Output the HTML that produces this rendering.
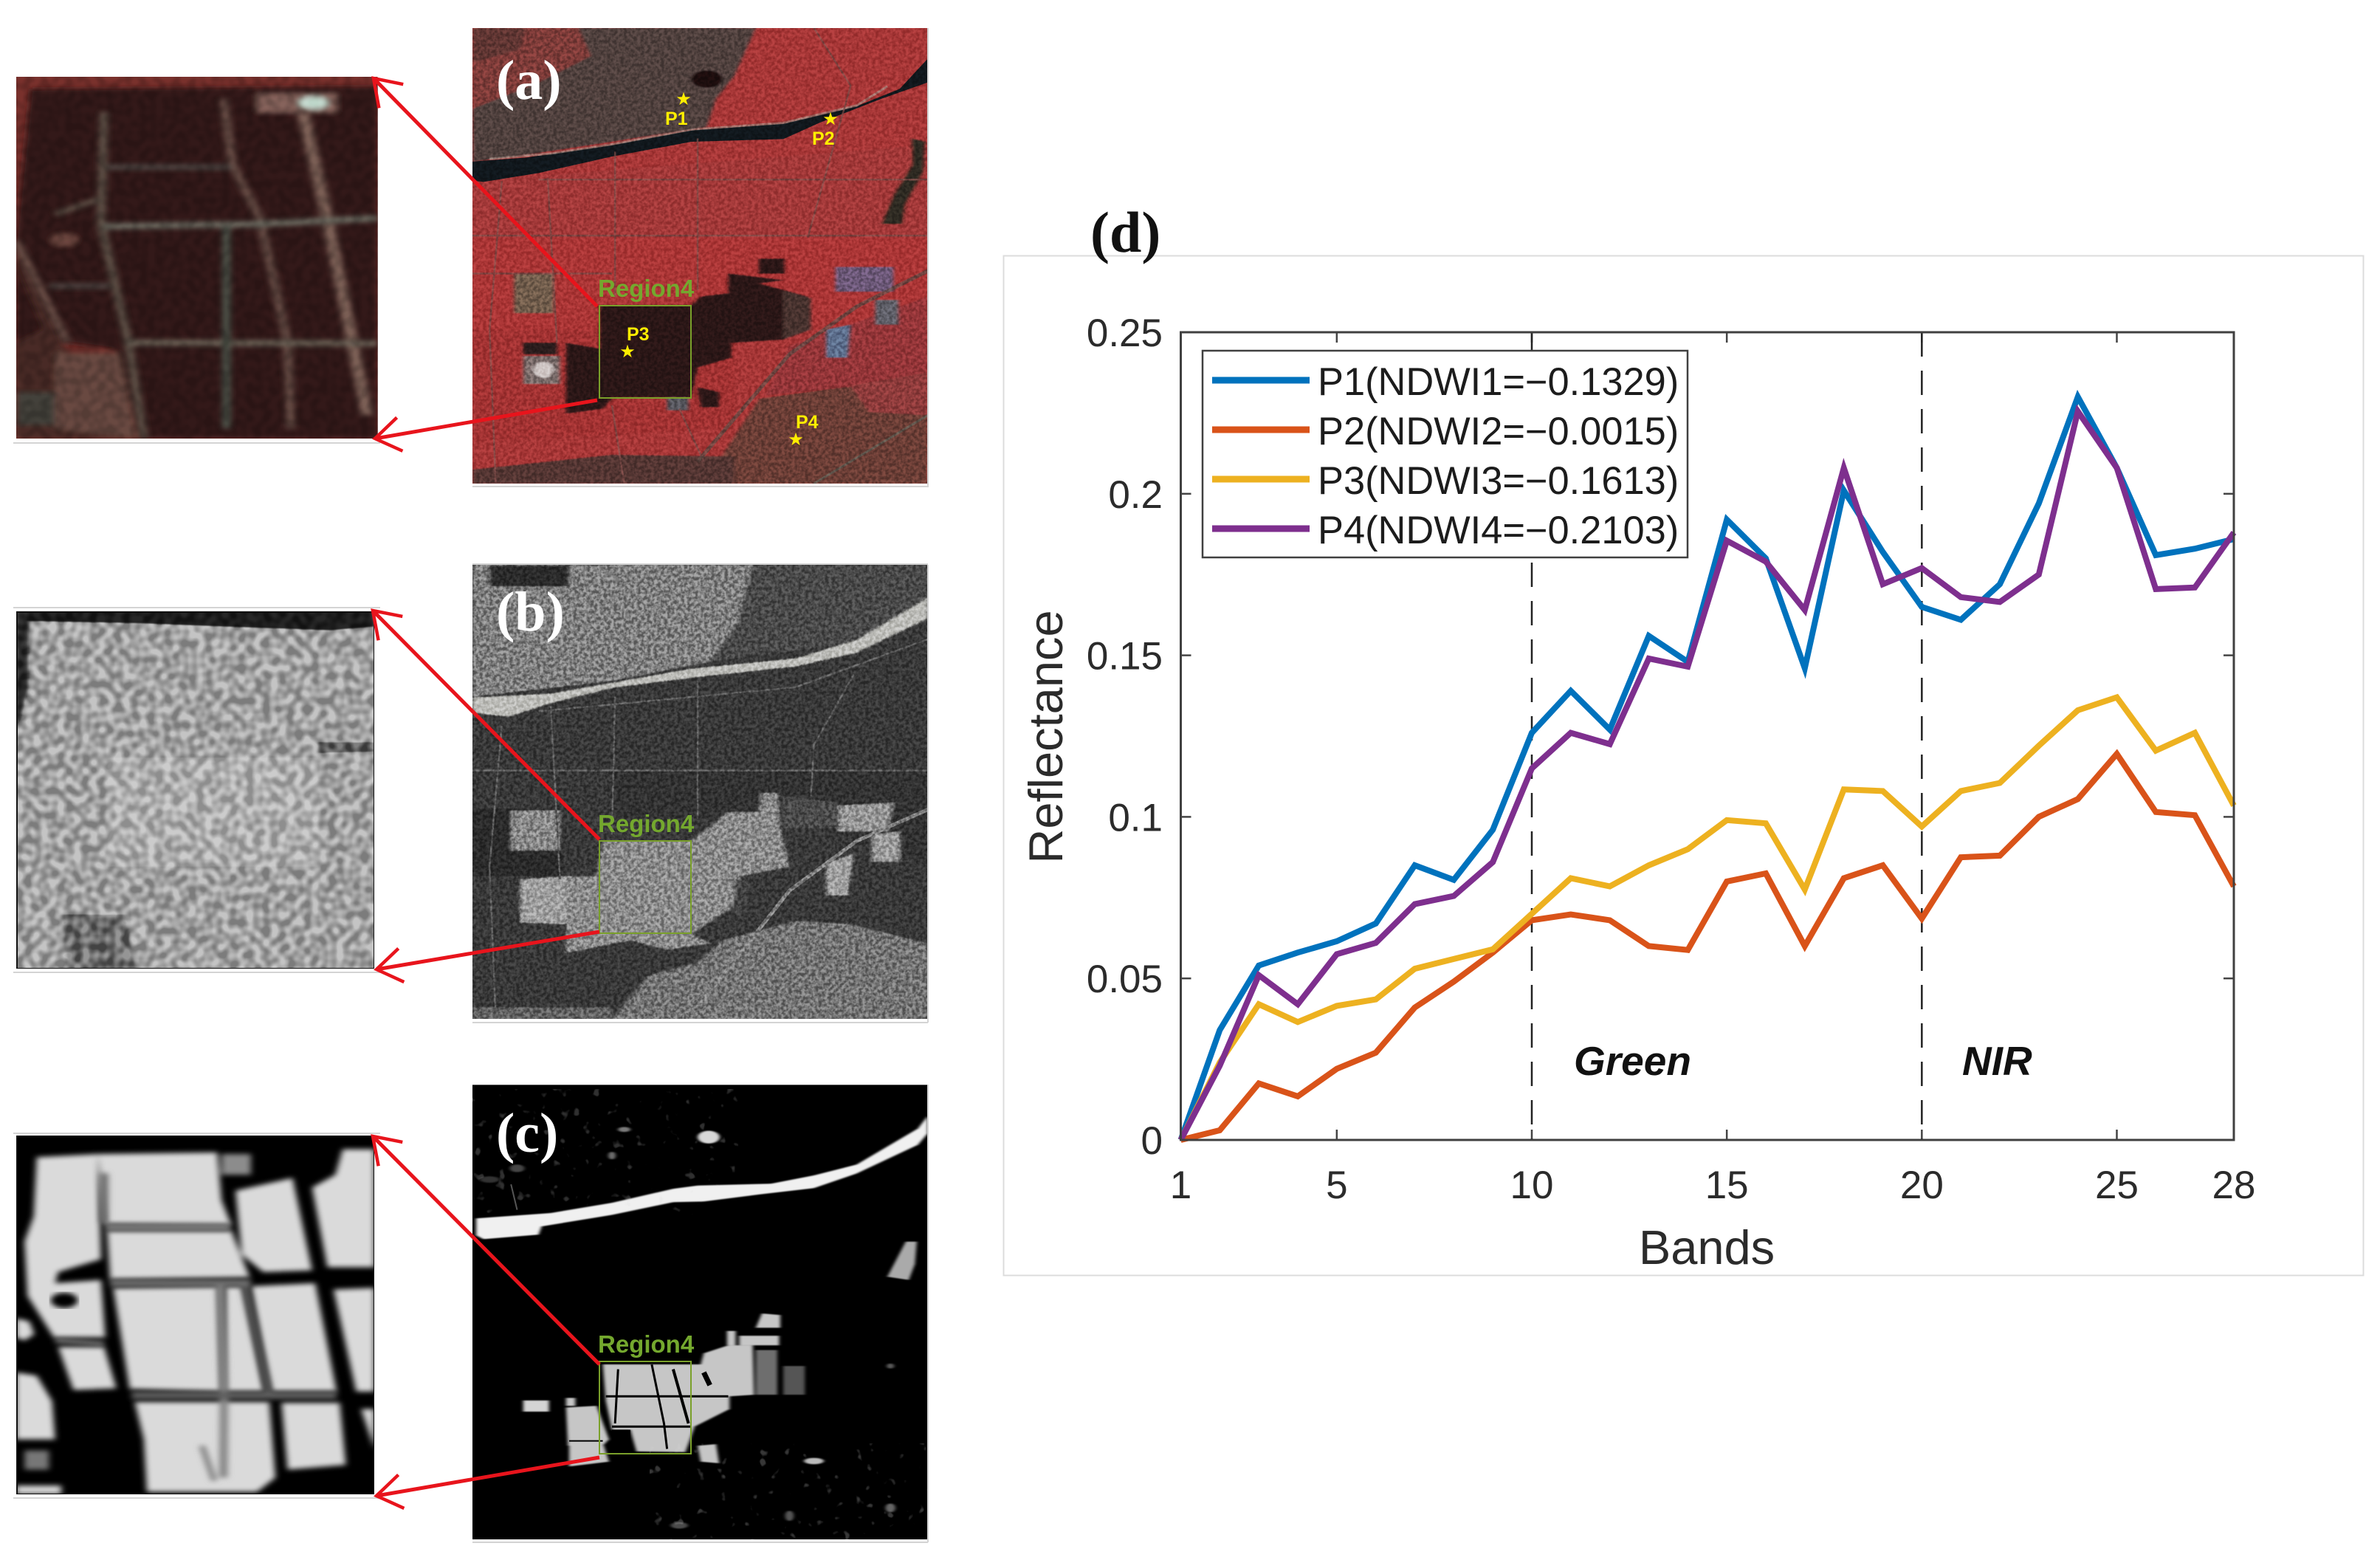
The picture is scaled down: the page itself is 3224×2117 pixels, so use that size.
<!DOCTYPE html>
<html lang="en">
<head>
<meta charset="utf-8">
<title>Region4 imagery and band reflectance</title>
<style>
html,body{margin:0;padding:0;background:#fff;width:3224px;height:2117px;overflow:hidden}
svg{display:block}
.sans{font-family:"Liberation Sans",sans-serif}
.serif{font-family:"Liberation Serif",serif}
.tick{font-family:"Liberation Sans",sans-serif;font-size:53px;fill:#2b2b2b}
.leg{font-family:"Liberation Sans",sans-serif;font-size:52.4px;fill:#1c1c1c}
.region{font-family:"Liberation Sans",sans-serif;font-size:33px;font-weight:bold;fill:#74a82e}
.pt{font-family:"Liberation Sans",sans-serif;font-size:25px;font-weight:bold;fill:#ffee00}
.star{font-family:"DejaVu Sans",sans-serif;font-size:24px;fill:#ffee00;text-anchor:middle}
.panel-label{font-family:"Liberation Serif",serif;font-size:76px;font-weight:bold;fill:#fff}
.rd{fill:none;stroke-width:2.5;vector-effect:non-scaling-stroke}
</style>
</head>
<body>
<svg id="figure" xmlns="http://www.w3.org/2000/svg" width="3224" height="2117" viewBox="0 0 3224 2117">
<defs>
  <filter id="soft" x="-5%" y="-5%" width="110%" height="110%"><feGaussianBlur stdDeviation="3 2"/></filter>
  <filter id="softer" x="-5%" y="-5%" width="110%" height="110%"><feGaussianBlur stdDeviation="7 6"/></filter>
  <filter id="insetBlur" x="-5%" y="-5%" width="110%" height="110%"><feGaussianBlur stdDeviation="5 8"/></filter>
  <filter id="grainFine" x="0" y="0" width="100%" height="100%" color-interpolation-filters="sRGB">
    <feTurbulence type="fractalNoise" baseFrequency="0.22" numOctaves="2" seed="4"/>
    <feColorMatrix type="matrix" values="2.6 0 0 0 -0.8  2.6 0 0 0 -0.8  2.6 0 0 0 -0.8  0 0 0 0 1"/>
  </filter>
  <filter id="grainBlock" x="0" y="0" width="100%" height="100%" color-interpolation-filters="sRGB">
    <feTurbulence type="fractalNoise" baseFrequency="0.09" numOctaves="1" seed="9"/>
    <feColorMatrix type="matrix" values="3 0 0 0 -1  3 0 0 0 -1  3 0 0 0 -1  0 0 0 0 1"/>
  </filter>
  <filter id="specks" x="0" y="0" width="100%" height="100%" color-interpolation-filters="sRGB">
    <feTurbulence type="fractalNoise" baseFrequency="0.07" numOctaves="2" seed="21"/>
    <feColorMatrix type="matrix" values="0 0 0 0 .85  0 0 0 0 .85  0 0 0 0 .85  9 0 0 0 -6.1"/>
  </filter>
  <clipPath id="clipA"><rect x="640" y="38" width="617" height="617"/></clipPath>
  <clipPath id="clipB"><rect x="640" y="765" width="617" height="615"/></clipPath>
  <clipPath id="clipC"><rect x="640" y="1469" width="617" height="616"/></clipPath>
  <clipPath id="clipIA"><rect x="22" y="104" width="490" height="490"/></clipPath>
  <clipPath id="clipIB"><rect x="22" y="828" width="485" height="484"/></clipPath>
  <clipPath id="clipIC"><rect x="22" y="1538" width="485" height="486"/></clipPath>
  <marker id="chev" markerUnits="userSpaceOnUse" markerWidth="70" markerHeight="70" refX="56" refY="35" orient="auto">
    <path d="M22,12 L56,35 L22,58" fill="none" stroke="#e8141c" stroke-width="4.5"/>
  </marker>
</defs>

<rect width="3224" height="2117" fill="#fff"/>

<!-- INSET A -->
<g clip-path="url(#clipIA)">
 <g transform="scale(0.829,0.4464)">
  <rect x="26" y="233" width="591" height="1098" fill="#6e2c28"/>
  <g filter="url(#insetBlur)">
   <path d="M50,270 L617,262 L617,1331 L230,1331 L190,1060 L110,1040 L50,1000 L26,720 Z" fill="#2e1518"/>
   <path d="M26,730 L100,1040 L215,1331 L26,1331 Z" fill="#432524"/>
   <path d="M26,800 L70,1000 L26,1040 Z" fill="#2e1518"/>
   <path d="M90,1070 L195,1070 L225,1331 L90,1300 Z" fill="#5e433a"/>
   <path d="M26,1190 L90,1190 L90,1290 L26,1290 Z" fill="#3e3a36"/>
   <rect x="420" y="285" width="130" height="55" fill="#7a5a52"/>
   <ellipse cx="512" cy="312" rx="24" ry="18" fill="#c4dcd0"/>
   <ellipse cx="105" cy="728" rx="22" ry="18" fill="#6a443e"/>
  </g>
  <g filter="url(#insetBlur)" fill="none" stroke-width="14">
   <path d="M170,340 L165,680 L210,1040 L235,1331" stroke="#55483f"/>
   <path d="M365,300 L380,500 L425,665 L470,1040 L475,1300" stroke="#5e4640"/>
   <path d="M495,340 L535,665 L600,1260" stroke="#725850" stroke-width="20"/>
   <path d="M170,687 L420,680 L617,662" stroke="#64645a" stroke-width="18"/>
   <path d="M175,507 L380,507" stroke="#47403c" stroke-width="16"/>
   <path d="M210,1040 L617,1042" stroke="#625a50" stroke-width="18"/>
   <path d="M370,690 L370,1300" stroke="#424840"/>
   <path d="M90,650 L160,605" stroke="#55483f"/>
   <path d="M26,730 L110,1040" stroke="#5e4640"/>
   <path d="M80,868 L180,868" stroke="#443e3a" stroke-width="16"/>
  </g>
 </g>
 <rect x="22" y="104" width="490" height="490" filter="url(#grainBlock)" style="mix-blend-mode:overlay" opacity=".1"/>
</g>

<!-- PANEL A -->
<g clip-path="url(#clipA)">
 <g transform="scale(0.829,0.4464)">
  <rect x="772" y="85" width="744" height="1382" fill="#a63636"/>
  <g filter="url(#soft)">
   <path d="M772,85 L945,85 L965,170 L880,250 L772,330 Z" fill="#7d3a38"/>
   <path d="M945,85 L1235,85 L1200,230 L1170,300 L1155,385 L1000,430 L860,470 L772,490 L772,330 L880,250 L965,170 Z" fill="#4f3f3e"/>
   <path d="M772,85 L860,85 L850,150 L772,190 Z" fill="#5e3533"/>
   <ellipse cx="1155" cy="240" rx="26" ry="26" fill="#1d0c10"/>
   <path d="M772,550 L1516,440 L1516,720 L772,720 Z" fill="#a23838"/>
   <path d="M772,720 L1516,720 L1516,1000 L772,1000 Z" fill="#aa3434"/>
   <path d="M772,1000 L1200,1000 L1200,1300 L772,1340 Z" fill="#a23232"/>
   <path d="M1150,1467 L1240,1210 L1516,1140 L1516,1467 Z" fill="#6a3c36"/>
   <path d="M1290,1050 L1516,900 L1516,1150 L1250,1200 Z" fill="#943638"/>
   <path d="M1390,1170 L1516,1130 L1516,1260 L1420,1250 Z" fill="#8e3a3a"/>
   <path d="M772,1467 L772,1425 L1000,1380 L1200,1385 L1200,1467 Z" fill="#523632"/>
   <path d="M1490,420 L1512,430 L1510,520 L1480,620 L1475,680 L1440,680 L1460,590 L1490,500 Z" fill="#2e2a24"/>
  </g>
  <path d="M772,490 L860,478 L1000,440 L1130,395 L1280,375 L1400,322 L1470,270 L1516,178 L1516,250 L1440,300 L1340,372 L1280,422 L1130,430 L1000,475 L880,525 790,552 L772,548 Z" fill="#10171c"/>
  <path d="M800,482 L900,466 L1000,438 L1130,393 L1280,373 L1400,320 L1450,262" fill="none" stroke="#a4948a" stroke-width="3" vector-effect="non-scaling-stroke" opacity=".6"/>
  <g fill="#2a1518" filter="url(#soft)">
   <path d="M980,926 L1130,926 L1145,900 L1190,890 L1190,830 L1280,850 L1240,860 L1320,900 L1320,1000 L1280,1030 L1195,1040 L1195,1085 L1140,1115 L1130,1205 L980,1205 Z"/>
   <rect x="1240" y="785" width="42" height="45"/>
   <path d="M925,1040 L985,1060 L1000,1210 L985,1240 L925,1255 Z"/>
   <path d="M1140,1175 L1175,1190 L1175,1235 L1145,1235 Z"/>
   <rect x="855" y="1040" width="55" height="35" fill="#2c1e1e"/>
   <path d="M1280,880 L1325,905 L1325,1000 L1280,1030 Z" fill="#46302e"/>
  </g>
  <g filter="url(#soft)">
   <rect x="840" y="830" width="65" height="120" fill="#705c4c"/>
   <rect x="855" y="1080" width="60" height="85" fill="#7a6c6a"/>
   <ellipse cx="888" cy="1122" rx="16" ry="24" fill="#cfc6c4"/>
   <rect x="1365" y="810" width="95" height="75" fill="#6c5878"/>
   <rect x="1430" y="910" width="38" height="75" fill="#5e5e68"/>
   <path d="M1350,1000 L1390,985 L1385,1085 L1350,1085 Z" fill="#5c6e8c"/>
   <rect x="1090" y="1205" width="35" height="40" fill="#55555c"/>
  </g>
  <g stroke="#7a4a46" opacity=".75">
   <path class="rd" d="M1330,85 L1390,260 L1320,720"/>
   <path class="rd" d="M820,550 L800,1000 L810,1467"/>
   <path class="rd" d="M895,540 L910,1040"/>
   <path class="rd" d="M1005,460 L1005,900"/>
   <path class="rd" d="M1140,420 L1140,880"/>
   <path class="rd" d="M880,545 L1516,545"/>
   <path class="rd" d="M772,715 L1516,715"/>
   <path class="rd" d="M772,830 L1000,830"/>
   <path class="rd" d="M1000,1230 L1020,1467"/>
   <path class="rd" d="M1110,1240 L1150,1400"/>
   <path d="M1516,822 L1400,930 L1290,1075 L1140,1400" fill="none" stroke="#5e4a44" stroke-width="5" vector-effect="non-scaling-stroke"/>
   <path d="M1516,1260 L1330,1467" fill="none" stroke="#5e5e54" stroke-width="3" vector-effect="non-scaling-stroke"/>
  </g>
 </g>
 <rect x="640" y="38" width="617" height="617" filter="url(#grainFine)" style="mix-blend-mode:overlay" opacity=".22"/>
</g>

<!-- INSET B -->
<g clip-path="url(#clipIB)">
 <g transform="translate(0,740) scale(0.829,0.4337)">
  <rect x="26" y="203" width="586" height="1118" fill="#a0a0a0"/>
  <g filter="url(#soft)">
   <path d="M26,203 L612,203 L612,250 L540,262 L360,250 L230,240 L26,232 Z" fill="#1c1c1c"/>
   <path d="M26,203 L46,203 L46,440 L32,540 L26,560 Z" fill="#262626"/>
   <path d="M520,612 L612,612 L612,640 L520,645 Z" fill="#5c5c5c"/>
   <path d="M100,1150 L205,1150 L220,1320 L110,1320 Z" fill="#6c6c6c"/>
   <path d="M175,660 L520,660 L520,1000 L175,1000 Z" fill="#adadad"/>
  </g>
 </g>
 <rect x="22" y="828" width="485" height="484" filter="url(#grainBlock)" style="mix-blend-mode:overlay" opacity=".38"/>
 <rect x="23" y="829" width="484" height="483" fill="none" stroke="#111" stroke-width="2"/>
</g>

<!-- PANEL B -->
<g clip-path="url(#clipB)">
 <g transform="translate(0,740) scale(0.829,0.4337)">
  <rect x="772" y="57" width="744" height="1422" fill="#383838"/>
  <g filter="url(#soft)">
   <path d="M772,57 L1230,57 L1205,240 L1160,360 L1000,420 L772,470 Z" fill="#7e7e7e"/>
   <path d="M1230,57 L1516,57 L1516,170 L1400,300 L1160,360 L1205,240 Z" fill="#484848"/>
   <path d="M800,60 L930,60 L930,125 L800,125 Z" fill="#2c2c2c"/>
   <path d="M1000,700 L1516,700 L1516,1000 L1300,850 L1000,850 Z" fill="#303030"/>
   <path d="M772,820 L920,820 L920,1030 L772,1030 Z" fill="#2a2a2a"/>
   <path d="M1280,780 L1370,800 L1370,880 L1280,880 Z" fill="#4c4c4c"/>
   <path d="M1000,1477 L1060,1340 L1140,1300 L1180,1230 L1300,1170 L1390,1180 L1516,1240 L1516,1477 Z" fill="#737373"/>
   <path d="M772,1440 L1000,1440 L1000,1477 L772,1477 Z" fill="#626262"/>
   <path d="M835,825 L915,825 L915,950 L835,950 Z" fill="#888"/>
   <path d="M925,1030 L975,1030 L985,920 L1130,920 L1190,830 L1240,830 L1245,770 L1270,770 L1275,880 L1290,1000 L1210,1030 L1195,1130 L1130,1210 L1160,1240 L1090,1260 L1030,1230 L925,1270 Z" fill="#8a8a8a"/>
   <path d="M850,1040 L925,1030 L925,1180 L850,1175 Z" fill="#9e9e9e"/>
   <path d="M1370,810 L1460,800 L1450,890 L1370,890 Z" fill="#949494"/>
   <path d="M1425,900 L1470,890 L1470,985 L1425,985 Z" fill="#9a9a9a"/>
   <path d="M1350,990 L1395,960 L1385,1090 L1350,1090 Z" fill="#a0a0a0"/>
   <path d="M1200,1040 L1225,1040 L1215,1150 L1200,1150 Z" fill="#444"/>
  </g>
  <path d="M772,472 L900,460 L1130,382 L1300,350 L1400,292 L1516,160 L1516,225 L1400,332 L1300,375 L1130,410 L1000,442 L900,490 L830,532 L772,520 Z" fill="#bcbcb8" filter="url(#soft)"/>
  <g stroke="#5a5a5a">
   <path class="rd" d="M820,560 L800,1000 L810,1470"/>
   <path class="rd" d="M900,500 L915,1040"/>
   <path class="rd" d="M1005,470 L1000,900"/>
   <path class="rd" d="M1140,420 L1140,850"/>
   <path class="rd" d="M880,515 L1300,440 L1516,290"/>
   <path class="rd" d="M772,700 L1516,700"/>
   <path class="rd" d="M1395,400 L1330,620 L1325,780"/>
   <path d="M1516,822 L1400,920 L1290,1075 L1140,1440" fill="none" stroke="#7e7e7e" stroke-width="5" vector-effect="non-scaling-stroke"/>
  </g>
 </g>
 <rect x="640" y="765" width="617" height="615" filter="url(#grainFine)" style="mix-blend-mode:overlay" opacity=".32"/>
</g>

<!-- INSET C -->
<g clip-path="url(#clipIC)">
 <g transform="translate(0,1440) scale(0.829,0.4318)">
  <rect x="26" y="228" width="586" height="1124" fill="#000"/>
  <g filter="url(#insetBlur)" fill="#dadada">
   <path d="M60,295 L160,285 L165,615 L95,655 L90,690 L165,680 L172,860 L88,860 L45,730 L40,560 L55,480 Z"/>
   <path d="M160,285 L355,280 L362,430 L378,508 L172,505 Z"/>
   <path d="M175,525 L378,525 L408,672 L180,678 Z"/>
   <path d="M385,400 L478,360 L510,650 L430,655 L395,600 Z"/>
   <path d="M510,390 L548,350 L560,270 L612,270 L612,640 L535,640 Z"/>
   <path d="M185,705 L357,700 L362,1030 L212,1022 Z"/>
   <path d="M368,700 L398,700 L432,1030 L368,1030 Z"/>
   <path d="M410,700 L515,690 L550,1030 L442,1030 Z"/>
   <path d="M545,710 L612,705 L612,1030 L582,1030 Z"/>
   <path d="M95,890 L170,890 L190,1020 L120,1025 Z"/>
   <path d="M26,970 L60,980 L85,1060 L90,1180 L26,1180 Z"/>
   <path d="M220,1062 L362,1062 L440,1062 L450,1300 L420,1345 L240,1345 L235,1180 Z"/>
   <path d="M460,1065 L555,1065 L565,1260 L470,1275 Z"/>
   <path d="M590,1085 L612,1085 L612,1210 Z"/>
   <path d="M26,800 L48,810 L56,850 L40,870 L26,860 Z"/>
   <path d="M26,1325 L100,1325 L100,1352 L26,1352 Z"/>
   <rect x="40" y="1215" width="40" height="60" fill="#777"/>
   <rect x="362" y="285" width="48" height="65" fill="#8c8c8c"/>
  </g>
  <g filter="url(#insetBlur)" fill="none">
   <path d="M172,515 L376,515" stroke="#7c7c7c" stroke-width="24"/>
   <path d="M180,690 L410,690" stroke="#6e6e6e" stroke-width="24"/>
   <path d="M360,700 L366,1040 L365,1300" stroke="#858585" stroke-width="14"/>
   <path d="M400,700 L440,1040" stroke="#4e4e4e" stroke-width="14"/>
   <path d="M215,1042 L550,1042" stroke="#5e5e5e" stroke-width="24"/>
   <path d="M330,1200 L350,1310" stroke="#808080" stroke-width="10"/>
   <path d="M90,870 L170,880" stroke="#808080" stroke-width="14"/>
   <path d="M170,345 L170,500" stroke="#6e6e6e" stroke-width="14"/>
  </g>
  <ellipse cx="105" cy="744" rx="22" ry="24" fill="#000" filter="url(#insetBlur)"/>
 </g>
 <rect x="23" y="1539" width="484" height="485" fill="none" stroke="#111" stroke-width="2"/>
</g>

<!-- PANEL C -->
<g clip-path="url(#clipC)">
 <g transform="translate(0,1440) scale(0.829,0.4318)">
  <rect x="772" y="68" width="744" height="1427" fill="#000"/>
  <path d="M778,487 L900,470 L1000,438 L1100,394 L1140,384 L1260,378 L1330,352 L1400,318 L1500,205 L1516,165 L1516,220 L1500,256 L1400,346 L1330,392 L1240,412 L1150,434 L1100,436 L1000,476 L885,512 L880,538 L790,552 L778,540 Z" fill="#f0f0f0" filter="url(#soft)"/>
  <g fill="#c6c6c6" filter="url(#soft)">
   <path d="M985,945 L1130,945 L1145,945 L1150,910 L1190,885 L1230,885 L1232,1040 L1192,1045 L1192,1085 L1135,1140 L1120,1220 L1040,1218 L1030,1150 L1000,1150 L990,1060 Z"/>
   <rect x="1208" y="855" width="65" height="30"/>
   <rect x="1188" y="840" width="14" height="45"/>
   <path d="M1245,785 L1275,790 L1275,830 L1235,830 Z"/>
   <path d="M925,1080 L975,1075 L995,1180 L985,1200 L928,1200 Z"/>
   <path d="M930,1190 L985,1190 L995,1250 L930,1265 Z"/>
   <rect x="925" y="1050" width="15" height="25"/>
   <rect x="855" y="1058" width="42" height="35" fill="#d4d4d4"/>
   <path d="M1140,1200 L1170,1195 L1175,1255 L1145,1250 Z"/>
   <path d="M1450,670 L1480,560 L1498,560 L1495,630 L1485,680 Z" fill="#aaa"/>
   <rect x="1235" y="900" width="35" height="140" fill="#6e6e6e"/>
   <rect x="1280" y="950" width="35" height="90" fill="#555"/>
   <ellipse cx="1158" cy="232" rx="18" ry="20" fill="#d8d8d8"/>
   <ellipse cx="1330" cy="1248" rx="16" ry="10" fill="#bbb"/>
   <ellipse cx="1020" cy="208" rx="10" ry="8" fill="#7a7a7a"/>
   <ellipse cx="1000" cy="290" rx="6" ry="12" fill="#6e6e6e"/>
   <ellipse cx="1290" cy="1420" rx="7" ry="16" fill="#555"/>
   <ellipse cx="1455" cy="1395" rx="8" ry="14" fill="#666"/>
   <ellipse cx="845" cy="330" rx="12" ry="12" fill="#444"/>
   <ellipse cx="1455" cy="950" rx="6" ry="8" fill="#5a5a5a"/>
   <ellipse cx="800" cy="365" rx="16" ry="10" fill="#333"/>
   <ellipse cx="1110" cy="1450" rx="14" ry="10" fill="#4c4c4c"/>
  </g>
  <g fill="none" stroke="#000">
   <path d="M1010,960 L1005,1130" stroke-width="3" vector-effect="non-scaling-stroke"/>
   <path d="M1065,945 L1085,1130 L1090,1210" stroke-width="3" vector-effect="non-scaling-stroke"/>
   <path d="M1100,960 L1125,1130" stroke-width="4" vector-effect="non-scaling-stroke"/>
   <path d="M990,1045 L1190,1045" stroke-width="3" vector-effect="non-scaling-stroke"/>
   <path d="M1000,1140 L1130,1140" stroke-width="3" vector-effect="non-scaling-stroke"/>
   <path d="M930,1185 L985,1185" stroke-width="2" vector-effect="non-scaling-stroke"/>
   <path d="M1150,970 L1160,1010" stroke-width="7" vector-effect="non-scaling-stroke"/>
   <rect x="1000" y="1150" width="30" height="65" fill="#000" stroke="none"/>
  </g>
  <path d="M835,380 L845,460" fill="none" stroke="#555" stroke-width="2" vector-effect="non-scaling-stroke"/>
 </g>
 <rect x="640" y="1475" width="360" height="170" filter="url(#specks)" opacity=".22"/>
 <rect x="880" y="1955" width="377" height="130" filter="url(#specks)" opacity=".25"/>
</g>

<!-- rules around the panels -->
<g stroke="#d4d4d4" stroke-width="2">
 <line x1="18" y1="600" x2="515" y2="600"/>
 <line x1="18" y1="823" x2="515" y2="823"/>
 <line x1="18" y1="1317" x2="515" y2="1317"/>
 <line x1="18" y1="1535" x2="515" y2="1535"/>
 <line x1="18" y1="2029" x2="515" y2="2029"/>
 <line x1="1257" y1="38" x2="1257" y2="660"/>
 <line x1="640" y1="659" x2="1257" y2="659"/>
 <line x1="1257" y1="765" x2="1257" y2="1385"/>
 <line x1="640" y1="1385" x2="1257" y2="1385"/>
 <line x1="640" y1="764" x2="1257" y2="764"/>
 <line x1="1257" y1="1469" x2="1257" y2="2089"/>
 <line x1="640" y1="2089" x2="1257" y2="2089"/>
</g>

<!-- Region boxes -->
<g fill="none" stroke="#7aa02a" stroke-width="2">
 <rect x="812" y="414" width="124" height="125"/>
 <rect x="812" y="1139" width="124" height="125"/>
 <rect x="812" y="1844" width="124" height="125"/>
</g>
<text class="region" x="810" y="402">Region4</text>
<text class="region" x="810" y="1127">Region4</text>
<text class="region" x="810" y="1832">Region4</text>

<!-- Sample points -->
<text class="star" x="926" y="142">★</text>
<text class="pt" x="901" y="169">P1</text>
<text class="star" x="1125" y="169">★</text>
<text class="pt" x="1100" y="196">P2</text>
<text class="star" x="850" y="484">★</text>
<text class="pt" x="849" y="461">P3</text>
<text class="star" x="1078" y="603">★</text>
<text class="pt" x="1078" y="580">P4</text>

<!-- Panel letters -->
<text class="panel-label" x="672" y="134">(a)</text>
<text class="panel-label" x="672" y="854">(b)</text>
<text class="panel-label" x="672" y="1560">(c)</text>

<!-- Zoom arrows -->
<g stroke="#e8141c" stroke-width="5" fill="none">
 <line x1="809" y1="415" x2="506" y2="106" marker-end="url(#chev)"/>
 <line x1="809" y1="542" x2="508" y2="594" marker-end="url(#chev)"/>
 <line x1="812" y1="1137" x2="505" y2="827" marker-end="url(#chev)"/>
 <line x1="812" y1="1262" x2="510" y2="1313" marker-end="url(#chev)"/>
 <line x1="812" y1="1848" x2="505" y2="1539" marker-end="url(#chev)"/>
 <line x1="812" y1="1974" x2="510" y2="2026" marker-end="url(#chev)"/>
</g>

<!-- Chart d -->
<rect x="1359.5" y="346.5" width="1842" height="1381" fill="#fff" stroke="#dcdcdc" stroke-width="2"/>
<text class="serif" x="1477" y="341" font-size="78" font-weight="bold" fill="#111">(d)</text>
<g id="chart"></g>
</svg>

<script>
const bands = [1,2,3,4,5,6,7,8,9,10,11,12,13,14,15,16,17,18,19,20,21,22,23,24,25,26,27,28];
const p1Values = [0,.034,.054,.058,.0615,.067,.085,.0805,.096,.126,.139,.127,.156,.148,.192,.180,.146,.201,.182,.165,.161,.172,.197,.230,.208,.181,.183,.186];
const p2Values = [0,.003,.0175,.0135,.022,.027,.041,.049,.058,.068,.0698,.068,.060,.0588,.080,.0825,.060,.081,.085,.0685,.0875,.088,.100,.1055,.1195,.1015,.1005,.0785];
const p3Values = [0,.024,.042,.0365,.0415,.0435,.053,.056,.059,.070,.081,.0785,.085,.090,.099,.098,.0775,.1085,.108,.097,.108,.1105,.122,.133,.137,.1205,.126,.1035];
const p4Values = [0,.023,.051,.042,.0575,.061,.073,.0755,.086,.115,.126,.1225,.149,.1465,.1855,.179,.164,.208,.172,.177,.168,.1665,.175,.2255,.208,.1705,.171,.188];
const seriesNames = ['p1','p2','p3','p4'];
const legendLabels = ['P1(NDWI1=\u22120.1329)','P2(NDWI2=\u22120.0015)','P3(NDWI3=\u22120.1613)','P4(NDWI4=\u22120.2103)'];
const xTicks = [1,5,10,15,20,25,28];
const yTicks = [0,0.05,0.1,0.15,0.2,0.25];
const yTickLabels = ['0','0.05','0.1','0.15','0.2','0.25'];
const dividerBands = [10,20];

const NS = 'http://www.w3.org/2000/svg';
const root = document.getElementById('chart');
const L = 1599.5, R = 3026, T = 450, B = 1544;
const xScale = b => L + (b - 1) * (R - L) / 27;
const yScale = v => B - v * (B - T) / 0.25;
const colors = ['#0072BD','#D95319','#EDB120','#7E2F8E'];
const allValues = [p1Values, p2Values, p3Values, p4Values];

function mk(tag, attrs, text) {
  const el = document.createElementNS(NS, tag);
  for (const k in attrs) el.setAttribute(k, attrs[k]);
  if (text !== undefined) el.textContent = text;
  root.appendChild(el);
  return el;
}

xTicks.forEach(function (t) {
  const x = xScale(t);
  const bottom = mk('line', {x1:x, x2:x, y1:B, y2:B-14, stroke:'#444', 'stroke-width':2.5});
  
  
  const top = mk('line', {x1:x, x2:x, y1:T, y2:T+14, stroke:'#444', 'stroke-width':2.5});
  
  
  const lab = mk('text', {x:x, y:1623, 'text-anchor':'middle', class:'tick'}, String(t));
  
  
});
yTicks.forEach(function (v, i) {
  const y = yScale(v);
  const left = mk('line', {x1:L, x2:L+14, y1:y, y2:y, stroke:'#444', 'stroke-width':2.5});
  
  
  const right = mk('line', {x1:R, x2:R-14, y1:y, y2:y, stroke:'#444', 'stroke-width':2.5});
  
  
  const lab = mk('text', {x:1575, y:y+19, 'text-anchor':'end', class:'tick'}, yTickLabels[i]);
  
  
});
dividerBands.forEach(function (b) {
  const d = mk('line', {x1:xScale(b), x2:xScale(b), y1:T, y2:B, stroke:'#222', 'stroke-width':2.5, 'stroke-dasharray':'33 19'});
  
  
});

allValues.forEach(function (vals, i) {
  const pts = vals.map(function (v, j) { return xScale(bands[j]).toFixed(1) + ',' + yScale(v).toFixed(1); }).join(' ');
  const line = mk('polyline', {points:pts, fill:'none', stroke:colors[i], 'stroke-width':8, 'stroke-linejoin':'miter', 'stroke-miterlimit':4});
  
  
});

const frame = mk('rect', {x:L, y:T, width:R-L, height:B-T, fill:'none', stroke:'#404040', 'stroke-width':3});



const legendBox = mk('rect', {x:1629, y:475, width:657, height:280, fill:'#fff', stroke:'#404040', 'stroke-width':2.5});


legendLabels.forEach(function (t, i) {
  const y = 515 + i * 67;
  const sw = mk('line', {x1:1642, x2:1774, y1:y, y2:y, stroke:colors[i], 'stroke-width':9});
  
  
  const lab = mk('text', {x:1785, y:y+20, class:'leg'}, t);
  
  
});

const xTitle = mk('text', {x:2312, y:1712, 'text-anchor':'middle', class:'sans', 'font-size':65, fill:'#2b2b2b'}, 'Bands');


const yTitle = mk('text', {transform:'translate(1439,998) rotate(-90)', 'text-anchor':'middle', class:'sans', 'font-size':65, fill:'#2b2b2b'}, 'Reflectance');


const green = mk('text', {x:2132, y:1456, class:'sans', 'font-size':55, 'font-weight':'bold', 'font-style':'italic', fill:'#111'}, 'Green');


const nir = mk('text', {x:2658, y:1456, class:'sans', 'font-size':55, 'font-weight':'bold', 'font-style':'italic', fill:'#111'}, 'NIR');


</script>
</body>
</html>
